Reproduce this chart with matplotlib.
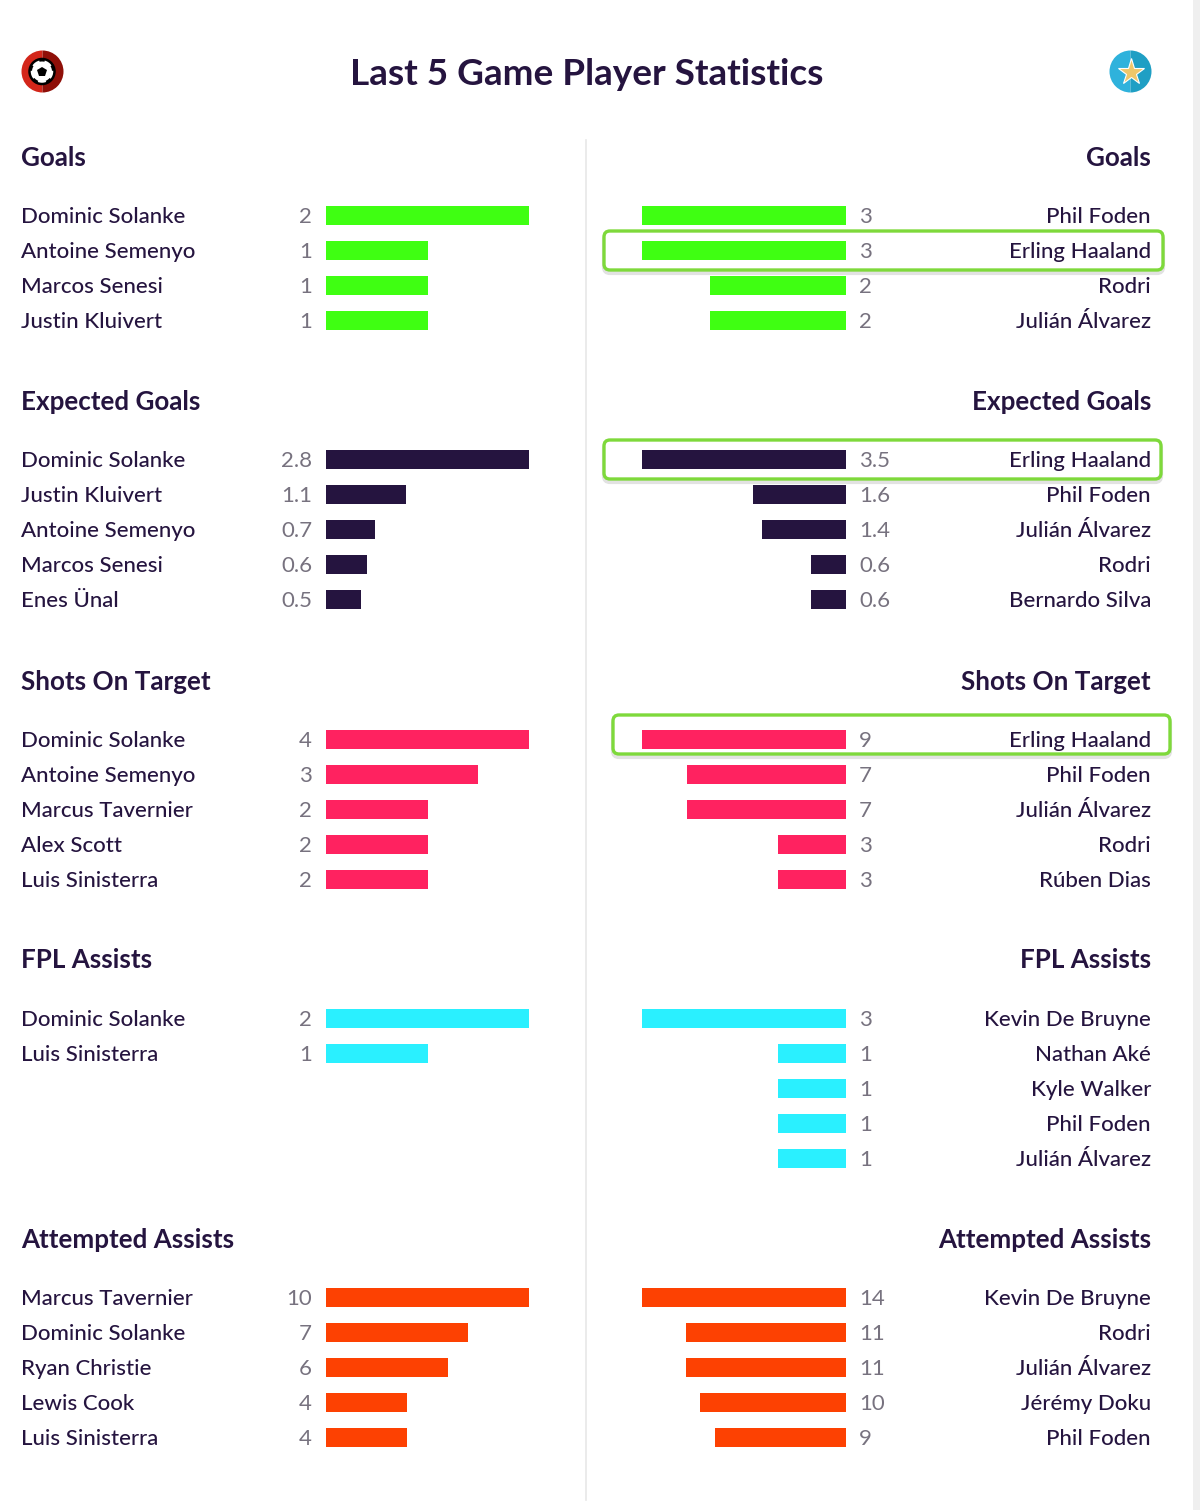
#!/usr/bin/env python3

import matplotlib
matplotlib.use("Agg")
import matplotlib.pyplot as plt
from matplotlib.patches import Circle, FancyBboxPatch, Rectangle, Wedge

plt.rcParams['font.family'] = ['Lato', 'DejaVu Sans']

title = "Last 5 Game Player Statistics"
sections = ["Goals", "Expected Goals", "Shots On Target", "FPL Assists", "Attempted Assists"]
colors = ["#3fff12", "#25143f", "#ff2260", "#2af0ff", "#fd4102"]

left_names = [
    ["Dominic Solanke", "Antoine Semenyo", "Marcos Senesi", "Justin Kluivert"],
    ["Dominic Solanke", "Justin Kluivert", "Antoine Semenyo", "Marcos Senesi", "Enes Ünal"],
    ["Dominic Solanke", "Antoine Semenyo", "Marcus Tavernier", "Alex Scott", "Luis Sinisterra"],
    ["Dominic Solanke", "Luis Sinisterra"],
    ["Marcus Tavernier", "Dominic Solanke", "Ryan Christie", "Lewis Cook", "Luis Sinisterra"],
]
left_values = [
    [2, 1, 1, 1],
    [2.8, 1.1, 0.68, 0.56, 0.48],
    [4, 3, 2, 2, 2],
    [2, 1],
    [10, 7, 6, 4, 4],
]
right_names = [
    ["Phil Foden", "Erling Haaland", "Rodri", "Julián Álvarez"],
    ["Erling Haaland", "Phil Foden", "Julián Álvarez", "Rodri", "Bernardo Silva"],
    ["Erling Haaland", "Phil Foden", "Julián Álvarez", "Rodri", "Rúben Dias"],
    ["Kevin De Bruyne", "Nathan Aké", "Kyle Walker", "Phil Foden", "Julián Álvarez"],
    ["Kevin De Bruyne", "Rodri", "Julián Álvarez", "Jérémy Doku", "Phil Foden"],
]
right_values = [
    [3, 3, 2, 2],
    [3.5, 1.6, 1.44, 0.6, 0.6],
    [9, 7, 7, 3, 3],
    [3, 1, 1, 1, 1],
    [14, 11, 11, 10, 9],
]

# layout, in pixels of the 1200x1510 picture
header_y = [157.5, 402.5, 681.5, 960.5, 1239.5]
first_row_y = [215.5, 459.5, 739, 1018.5, 1297.5]
row_step = 35
bar_h = 19
left_x0, left_len = 326, 203
right_x0, right_len = 846, 204
ink = "#25143f"
grey = "#77727f"
text_size = 16
text_dy = 1.7

fig = plt.figure(figsize=(12, 15.1), dpi=100, facecolor="white")
ax = fig.add_axes([0, 0, 1, 1])
ax.set_xlim(0, 1200)
ax.set_ylim(1510, 0)
ax.axis("off")

ax.add_patch(Rectangle((1193, 0), 7, 1510, color="#efefef", lw=0))
ax.plot([585.5, 585.5], [140, 1500], color="#e8e8e8", lw=1.2)

ax.text(587, 74.5, title, ha="center", va="center", fontsize=26.6, color=ink, fontweight="bold")

# left icon: football on a red disc
ax.add_patch(Wedge((42.5, 71.5), 21, 90, 270, color="#d3261a", lw=0))
ax.add_patch(Wedge((42.5, 71.5), 21, 270, 90, color="#8f0f08", lw=0))
ax.add_patch(Circle((42, 71.5), 12.5, facecolor="white", edgecolor="black", lw=1.8))
ax.plot([42], [71.5], marker="p", ms=7, color="black", mew=0)
for ang in [90, 162, 234, 306, 18]:
    ax.add_patch(Wedge((42, 71.5), 13, -ang - 14, -ang + 14, width=3, color="black", lw=0))

# right icon: star on a blue disc
ax.add_patch(Wedge((1130.5, 71.5), 21, 90, 270, color="#2fb2dc", lw=0))
ax.add_patch(Wedge((1130.5, 71.5), 21, 270, 90, color="#1f9fc4", lw=0))
ax.plot([1130.5], [72], marker="*", ms=20, color="#efc76a", mec="white", mew=0.8)


def draw_side(names, values, row0, color, side, decimals):
    y = [row0 + i * row_step for i in range(len(values))]
    top = max(values)
    if side == "left":
        widths = [v / top * left_len for v in values]
        ax.barh(y, widths, height=bar_h, left=left_x0, color=color, zorder=3)
    else:
        widths = [v / top * right_len for v in values]
        ax.barh(y, [-w for w in widths], height=bar_h, left=right_x0, color=color, zorder=3)
    for yy, name, v in zip(y, names, values):
        label = f"{v:.1f}" if decimals else str(v)
        if side == "left":
            ax.text(21, yy + text_dy, name, ha="left", va="center", fontsize=text_size, color=ink, zorder=4, fontweight="medium")
            ax.text(312, yy + text_dy, label, ha="right", va="center", fontsize=text_size, color=grey, zorder=4)
        else:
            ax.text(1151, yy + text_dy, name, ha="right", va="center", fontsize=text_size, color=ink, zorder=4, fontweight="medium")
            ax.text(859, yy + text_dy, label, ha="left", va="center", fontsize=text_size, color=grey, zorder=4)


for i, section in enumerate(sections):
    ax.text(21, header_y[i], section, ha="left", va="center", fontsize=18.7, color=ink, fontweight="bold")
    ax.text(1151, header_y[i], section, ha="right", va="center", fontsize=18.7, color=ink, fontweight="bold")
    draw_side(left_names[i], left_values[i], first_row_y[i], colors[i], "left", i == 1)
    draw_side(right_names[i], right_values[i], first_row_y[i], colors[i], "right", i == 1)

# green boxes around Haaland
for x0, x1, y0, y1 in [(604, 1163, 231, 270), (604, 1161, 440, 479), (613, 1170, 715, 754)]:
    ax.add_patch(FancyBboxPatch((x0 + 5, y0 + 8), x1 - x0 - 10, y1 - y0 - 10,
                                boxstyle="round,pad=5,rounding_size=6",
                                facecolor="none", edgecolor="#e2e2e2", lw=3, zorder=1))
    ax.add_patch(FancyBboxPatch((x0 + 5, y0 + 5), x1 - x0 - 10, y1 - y0 - 10,
                                boxstyle="round,pad=5,rounding_size=6",
                                facecolor="white", edgecolor="#7ed93b", lw=2.4, zorder=2))

fig.savefig("out.png", dpi=100)
